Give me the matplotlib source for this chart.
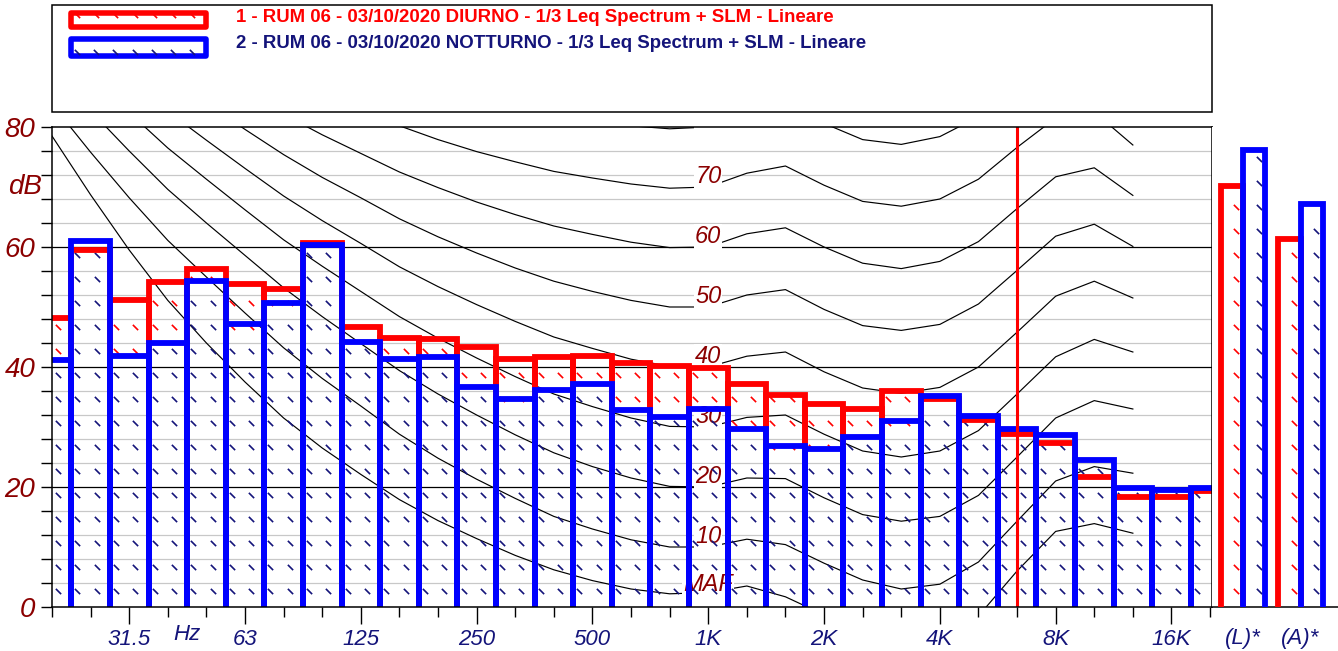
import numpy as np
import matplotlib
matplotlib.use("Agg")
import matplotlib.pyplot as plt
from matplotlib.path import Path
from matplotlib.patches import Rectangle

plt.rcParams['font.family'] = ['Liberation Sans', 'DejaVu Sans']

# ---------------- data ----------------
bands = ["20", "25", "31.5", "40", "50", "63", "80", "100", "125", "160", "200", "250",
         "315", "400", "500", "630", "800", "1K", "1.25K", "1.6K", "2K", "2.5K", "3.15K",
         "4K", "5K", "6.3K", "8K", "10K", "12.5K", "16K", "20K"]
diurno = [48.1, 59.5, 51.2, 54.1, 56.4, 53.8, 53.0, 60.6, 46.6, 44.9, 44.7, 43.3,
          41.4, 41.6, 41.9, 40.6, 40.1, 39.9, 37.1, 35.4, 33.9, 33.0, 36.0,
          34.6, 31.2, 28.9, 27.3, 21.6, 18.4, 18.4, 19.3]
notturno = [41.2, 61.0, 41.8, 44.0, 54.4, 47.2, 50.6, 60.3, 44.2, 41.3, 41.6, 36.6,
            34.7, 36.2, 37.2, 32.8, 31.6, 33.0, 29.7, 26.8, 26.4, 28.4, 31.0,
            35.2, 31.8, 29.7, 28.7, 24.5, 19.8, 19.5, 19.8]
total_labels = ["(L)*", "(A)*"]
diurno_tot = [70.2, 61.3]
notturno_tot = [76.2, 67.2]
legend_labels = ["1 - RUM 06 - 03/10/2020 DIURNO - 1/3 Leq Spectrum + SLM - Lineare",
                 "2 - RUM 06 - 03/10/2020 NOTTURNO - 1/3 Leq Spectrum + SLM - Lineare"]
octave_ticks = ["31.5", "63", "125", "250", "500", "1K", "2K", "4K", "8K", "16K"]
cursor_band = "6.3K"

# equal-loudness contours (ISO 226), 20 Hz .. 12.5 kHz
contour_labels = ["MAF", "10", "20", "30", "40", "50", "60", "70", "80"]
maf = [78.5, 68.7, 59.5, 51.1, 44.0, 37.5, 31.5, 26.5, 22.1, 17.9, 14.4, 11.4, 8.6, 6.2, 4.4,
       3.0, 2.2, 2.4, 3.5, 1.7, -1.3, -4.2, -6.0, -5.4, -1.5, 6.0, 12.6, 13.9, 12.3]
phon10 = [83.8, 75.8, 68.2, 61.1, 55.0, 49.0, 43.2, 38.1, 33.5, 28.8, 24.8, 21.3, 18.1, 15.1, 13.0,
          11.2, 10.0, 10.0, 11.3, 10.4, 7.3, 4.5, 3.0, 3.8, 7.5, 14.3, 21.0, 23.4, 22.3]
phon20 = [89.6, 82.7, 76.0, 69.6, 64.0, 58.6, 53.2, 48.4, 43.9, 39.4, 35.5, 32.0, 28.7, 25.7, 23.4,
          21.5, 20.1, 20.0, 21.5, 21.4, 18.2, 15.4, 14.3, 15.1, 18.6, 25.0, 31.5, 34.4, 33.0]
phon30 = [94.8, 88.5, 82.4, 76.5, 71.3, 66.2, 61.2, 56.8, 52.6, 48.4, 44.8, 41.5, 38.4, 35.5, 33.4,
          31.5, 30.1, 30.0, 31.6, 32.0, 28.8, 26.0, 25.0, 26.0, 29.4, 35.5, 41.7, 44.6, 42.5]
phon40 = [99.9, 93.9, 88.2, 82.6, 77.8, 73.1, 68.5, 64.4, 60.6, 56.7, 53.4, 50.4, 47.6, 45.0, 43.1,
          41.3, 40.1, 40.0, 41.8, 42.5, 39.2, 36.5, 35.6, 36.6, 40.0, 45.8, 51.8, 54.3, 51.5]
phon50 = [104.7, 99.1, 93.7, 88.5, 84.0, 79.6, 75.4, 71.6, 68.2, 64.7, 61.7, 59.0, 56.5, 54.3, 52.6,
          51.1, 50.0, 50.0, 52.0, 52.9, 49.6, 46.9, 46.1, 47.1, 50.5, 56.1, 61.8, 63.8, 60.1]
phon60 = [109.5, 104.2, 99.1, 94.2, 90.0, 85.9, 82.1, 78.7, 75.6, 72.5, 69.9, 67.5, 65.4, 63.5, 62.1,
          60.8, 59.9, 60.0, 62.2, 63.2, 60.0, 57.3, 56.4, 57.6, 60.9, 66.4, 71.7, 73.2, 68.6]
phon70 = [114.3, 109.2, 104.4, 99.8, 95.9, 92.2, 88.6, 85.6, 82.9, 80.2, 77.9, 75.9, 74.2, 72.6, 71.5,
          70.5, 69.8, 70.0, 72.3, 73.5, 70.3, 67.6, 66.8, 68.0, 71.3, 76.6, 81.5, 82.5, 77.0]
phon80 = [119.0, 114.2, 109.6, 105.3, 101.7, 98.4, 95.2, 92.5, 90.1, 87.8, 85.9, 84.3, 82.9, 81.7, 80.9,
          80.2, 79.7, 80.0, 82.4, 83.7, 80.6, 77.9, 77.1, 78.4, 81.7, 86.8, 91.2, 91.7, 85.2]
contours = [maf, phon10, phon20, phon30, phon40, phon50, phon60, phon70, phon80]

# ---------------- style ----------------
RED = "#ff0000"
BLUE = "#0000ff"
NAVY = "#14147a"
DARKRED = "#8b0000"
W, H = 1338, 651

fig = plt.figure(figsize=(W / 100, H / 100), dpi=100)
fig.patch.set_facecolor("white")


def rect(l, t, r, b):
    return [l / W, 1 - b / H, (r - l) / W, (b - t) / H]


ax = fig.add_axes(rect(52, 127, 1212, 607))
ax2 = fig.add_axes(rect(1212, 127, 1338, 607))

n = len(bands)
xi = np.arange(n)
ax.set_xlim(0, n - 1 + 0.05)
ax.set_ylim(0, 80)

# horizontal grid
for v in range(4, 80, 4):
    ax.axhline(v, color="black" if v % 20 == 0 else "#c8c8c8", lw=0.9, zorder=0.5)

# contours
cx = np.arange(len(maf))
ref_i = bands.index("1K")
for lab, vals in zip(contour_labels, contours):
    ax.plot(cx, vals, color="black", lw=0.85, zorder=2)
    off = 0.2 if lab == "MAF" else 0.7
    ax.text(cx[ref_i], vals[ref_i] + off, lab, ha="center", va="baseline",
            color=DARKRED, fontsize=17, style="italic", zorder=3, clip_on=True,
            bbox=dict(facecolor="white", edgecolor="none", pad=0.6))

# hatch dashes
dash = Path([(-1, 1), (1, -1)], [Path.MOVETO, Path.LINETO])
dash_y = np.arange(4, 81, 4) - 1.3
dash_x = np.arange(0.16, n - 1 + 0.05, 0.5)
rx, ry, bx, by = [], [], [], []
for x in dash_x:
    j = int(np.floor(x + 0.5))
    for y in dash_y:
        if y + 0.6 < notturno[j]:
            bx.append(x); by.append(y)
        elif y + 0.6 < diurno[j]:
            rx.append(x); ry.append(y)
ax.plot(rx, ry, ls="none", marker=dash, ms=3.8, mew=1.2, color=RED, zorder=3.5)
ax.plot(bx, by, ls="none", marker=dash, ms=3.8, mew=1.2, color=NAVY, zorder=3.5)

# bars (outlines)
for i in range(n):
    l, r = xi[i] - 0.5, xi[i] + 0.5
    ax.plot([l, l, r, r], [0, diurno[i], diurno[i], 0], color=RED, lw=4.2,
            solid_joinstyle="miter", zorder=4)
for i in range(n):
    l, r = xi[i] - 0.5, xi[i] + 0.5
    ax.plot([l, l, r, r], [0, notturno[i], notturno[i], 0], color=BLUE, lw=4.2,
            solid_joinstyle="miter", zorder=5)

# cursor
ax.axvline(bands.index(cursor_band), color=RED, lw=2.2, zorder=6)

# axes styling
for s in ax.spines.values():
    s.set_linewidth(1.1)
    s.set_zorder(7)
ax.set_xticks([bands.index(b) for b in octave_ticks])
ax.set_xticklabels(octave_ticks)
ax.set_xticks(xi, minor=True)
ax.tick_params(axis="x", which="major", length=12, width=1, pad=4, labelsize=16,
               labelcolor=NAVY)
ax.tick_params(axis="x", which="minor", length=7, width=1)
for t in ax.get_xticklabels():
    t.set_style("italic")
hz_x = (bands.index("40") + bands.index("50")) / 2
ax.text(hz_x, -17 / 480, "Hz", transform=ax.get_xaxis_transform(),
        ha="center", va="top", fontsize=16, style="italic", color=NAVY)

ax.set_yticks([0, 20, 40, 60, 80])
ax.set_yticks(np.arange(0, 81, 4), minor=True)
ax.tick_params(axis="y", which="both", length=8, width=1, pad=4)
ax.tick_params(axis="y", which="major", labelsize=20, labelcolor=DARKRED)
for t in ax.get_yticklabels():
    t.set_style("italic")
fig.text(25 / W, 1 - 187 / H, "dB", ha="center", va="center", fontsize=20,
         style="italic", color=DARKRED)

# totals panel
ax2.set_xlim(-0.539, 1.652)
ax2.set_ylim(0, 80)
bw = 0.39
tx = np.arange(len(total_labels))
for c in tx:
    for off, vals, col, hc, z in [(-bw / 2, diurno_tot, RED, RED, 4), (bw / 2, notturno_tot, BLUE, NAVY, 5)]:
        l, r = c + off - bw / 2, c + off + bw / 2
        hy = [y for y in dash_y if y + 0.6 < vals[c]]
        ax2.plot([c + off + 0.08] * len(hy), hy, ls="none", marker=dash, ms=3.8,
                 mew=1.2, color=hc, zorder=3.5)
        ax2.plot([l, l, r, r], [0, vals[c], vals[c], 0], color=col, lw=4.2,
                 solid_joinstyle="miter", zorder=z)
for s in ["top", "right", "left"]:
    ax2.spines[s].set_visible(False)
ax2.spines["bottom"].set_linewidth(1.1)
ax2.set_yticks([])
ax2.set_xticks(tx)
ax2.set_xticklabels(total_labels)
ax2.tick_params(axis="x", length=0, pad=15, labelsize=16, labelcolor=NAVY)
for t in ax2.get_xticklabels():
    t.set_style("italic")

# legend box
lax = fig.add_axes([0, 0, 1, 1])
lax.set_xlim(0, W)
lax.set_ylim(H, 0)
lax.axis("off")
lax.patch.set_alpha(0)
lax.add_patch(Rectangle((52, 5), 1160, 107, fill=False, ec="black", lw=1.1))
sw = [(RED, RED, 12.5, 26.5, 15.0), (BLUE, NAVY, 38.5, 55.5, 51.5)]
for (ec, hc, t, b, hyy), lab in zip(sw, legend_labels):
    lax.add_patch(Rectangle((70.5, t), 135, b - t, fill=False, ec=ec, lw=4, joinstyle="round"))
    hxs = np.arange(77, 200, 19.2)
    lax.plot(hxs, [hyy] * len(hxs), ls="none", marker=dash, ms=3.8, mew=1.2, color=hc)
lax.text(236, 18, legend_labels[0], va="center", ha="left", color=RED,
         fontsize=13.4, weight="bold")
lax.text(236, 44, legend_labels[1], va="center", ha="left", color=NAVY,
         fontsize=13.4, weight="bold")

fig.savefig("out.png", dpi=100)
